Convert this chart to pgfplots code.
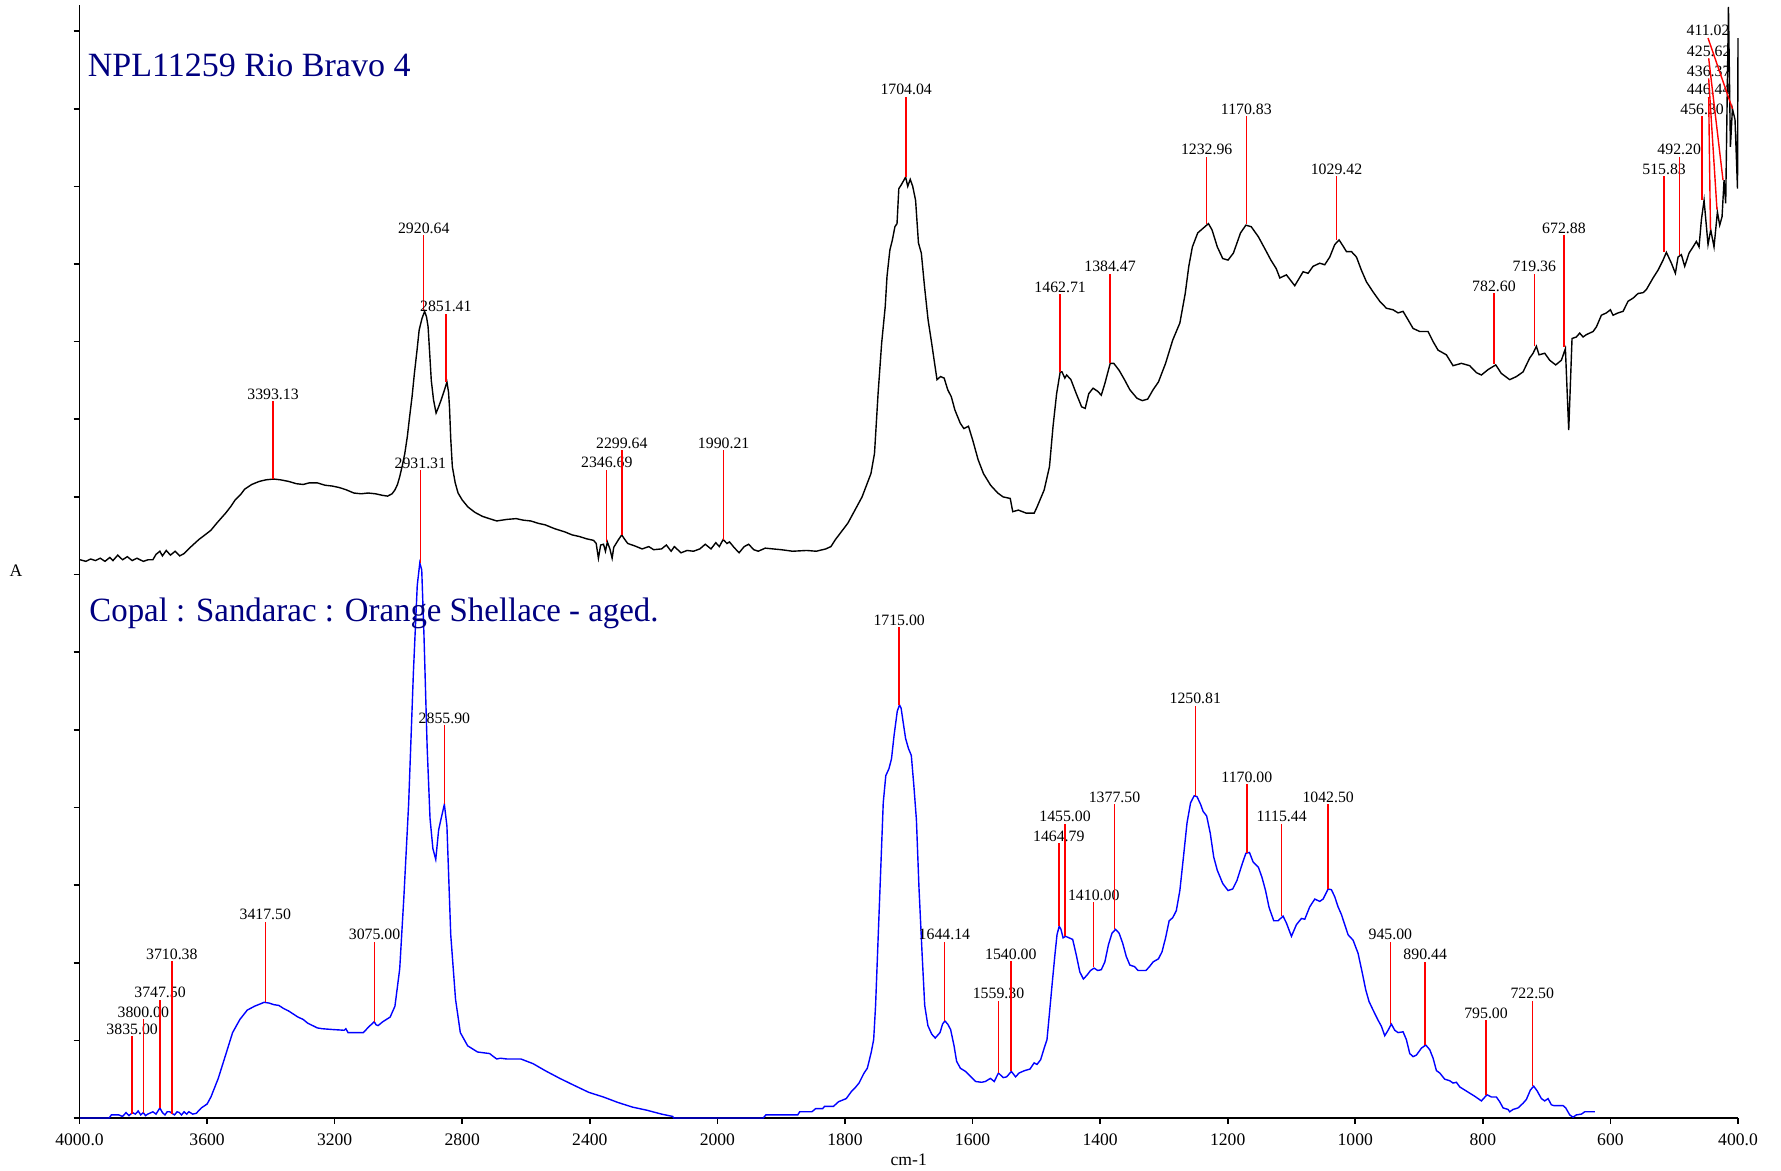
\documentclass[border=0pt]{standalone}
\usepackage{fontspec}
\setmainfont{Liberation Serif}
\usepackage{graphicx}
\usepackage{pgfplots}
\pgfplotsset{compat=1.18}

\definecolor{titleblue}{RGB}{0,0,128}
\definecolor{specblue}{RGB}{0,0,255}
\definecolor{peakred}{RGB}{255,0,0}

\pgfplotsset{
  peakline/.style={peakred, line width=0.7pt, forget plot},
}
\tikzset{
  peaklabel/.style={anchor=south, inner sep=0pt, yshift=0.6pt,
                    font=\fontsize{7.9}{9}\selectfont, text=black},
}
% vertical peak marker: wavenumber, foot (on the spectrum), top (under the label)
\newcommand\peak[3]{\addplot[peakline] coordinates {(#1,#2) (#1,#3)} node[peaklabel,pos=1] {#1};}
% leader line for crowded labels: label, foot x, foot y, top x, top y
\newcommand\slantpeak[5]{\addplot[peakline] coordinates {(#2,#3) (#4,#5)} node[peaklabel,pos=1] {#1};}

\begin{document}
\begin{tikzpicture}
\useasboundingbox (0,0) rectangle (890.5pt,585.5pt);
\begin{axis}[
  at={(39.75pt,26.5pt)}, anchor=south west,
  width=829.25pt, height=556.5pt, scale only axis,
  % FTIR abscissa: 400 cm-1 per division above 2000, 200 cm-1 per division below
  x coord trafo/.code={\pgfmathparse{(#1>=2000)?((4000-#1)/400):(5+(2000-#1)/200)}},
  xmin=4000, xmax=400, ymin=0, ymax=14.336,
  axis x line*=bottom, axis y line*=left,
  axis line style={black, line width=0.8pt},
  xtick={4000,3600,3200,2800,2400,2000,1800,1600,1400,1200,1000,800,600,400},
  xticklabels={4000.0,3600,3200,2800,2400,2000,1800,1600,1400,1200,1000,800,600,400.0},
  ytick={0,1,...,14}, yticklabels={},
  tick align=outside, major tick length=3pt,
  tick style={black, line width=0.8pt},
  xticklabel style={font=\fontsize{8.8}{10}\selectfont, yshift=-1.2pt},
  clip=false,
]

% ---- NPL11259 Rio Bravo 4 (offset spectrum) ----
\addplot[black, line width=0.7pt] table {
wn a
3998 7.19
3980 7.17
3965 7.20
3950 7.18
3935 7.21
3920 7.17
3905 7.22
3895 7.18
3880 7.25
3865 7.19
3850 7.23
3835 7.18
3820 7.21
3800 7.17
3785 7.19
3770 7.19
3760 7.26
3748 7.30
3740 7.24
3728 7.31
3715 7.25
3700 7.30
3686 7.24
3672 7.27
3650 7.36
3626 7.45
3610 7.50
3588 7.57
3570 7.66
3555 7.73
3542 7.79
3525 7.88
3512 7.96
3495 8.03
3482 8.10
3460 8.16
3436 8.20
3415 8.22
3391 8.23
3370 8.22
3345 8.20
3320 8.17
3299 8.16
3280 8.18
3254 8.18
3230 8.15
3208 8.14
3185 8.12
3163 8.09
3140 8.05
3117 8.04
3095 8.05
3072 8.04
3050 8.02
3034 8.01
3020 8.04
3011 8.09
3003 8.16
2996 8.26
2988 8.40
2980 8.56
2972 8.78
2965 9.03
2957 9.30
2950 9.59
2942 9.88
2935 10.15
2926 10.30
2918 10.39
2912 10.32
2907 10.19
2902 9.85
2897 9.50
2890 9.25
2882 9.08
2875 9.15
2866 9.25
2857 9.36
2848 9.48
2843 9.35
2840 9.16
2836 8.75
2831 8.39
2822 8.18
2813 8.05
2800 7.96
2782 7.87
2760 7.80
2737 7.75
2715 7.72
2692 7.69
2660 7.71
2631 7.72
2608 7.70
2585 7.69
2562 7.66
2540 7.64
2510 7.59
2479 7.55
2455 7.51
2433 7.49
2410 7.46
2388 7.44
2380 7.40
2373 7.21
2366 7.38
2357 7.39
2351 7.30
2345 7.42
2337 7.33
2330 7.21
2325 7.35
2319 7.39
2310 7.45
2300 7.51
2290 7.45
2281 7.40
2260 7.37
2236 7.33
2215 7.36
2200 7.32
2175 7.33
2160 7.38
2145 7.30
2135 7.36
2114 7.28
2095 7.31
2075 7.30
2055 7.33
2038 7.39
2020 7.33
2005 7.41
1997 7.36
1991 7.45
1985 7.40
1981 7.42
1974 7.35
1966 7.28
1958 7.36
1951 7.39
1943 7.32
1936 7.30
1925 7.34
1913 7.33
1900 7.32
1882 7.30
1860 7.31
1845 7.30
1830 7.33
1822 7.36
1815 7.45
1795.6 7.66
1785 7.82
1773.2 8.00
1759.3 8.30
1753.7 8.56
1748.1 9.33
1742.5 9.98
1736.9 10.45
1734.1 10.84
1729.6 11.18
1725.7 11.31
1721.7 11.48
1718.4 11.52
1715.6 11.97
1711.7 12.02
1704.9 12.12
1701.6 12.00
1697.7 12.09
1693.8 12.00
1689.3 11.82
1684.8 11.27
1680.3 11.14
1675.3 10.71
1669.7 10.28
1664.1 9.98
1660.2 9.76
1655.7 9.51
1650.1 9.55
1644.5 9.53
1638.9 9.38
1633.3 9.29
1627.7 9.12
1619.3 8.95
1613.7 8.88
1606.4 8.91
1599.7 8.73
1591.3 8.48
1582.9 8.30
1571.7 8.15
1560.5 8.05
1552.1 8.00
1540.9 7.98
1537.0 7.81
1528.1 7.83
1515.7 7.79
1503.4 7.79
1498.9 7.87
1487.7 8.09
1479.4 8.39
1473.8 8.91
1468.2 9.33
1462.6 9.61
1459.8 9.61
1455.3 9.53
1452.5 9.57
1445.8 9.51
1437.4 9.33
1429.0 9.16
1423.4 9.14
1417.8 9.33
1411.1 9.40
1403.8 9.36
1398.2 9.31
1392.6 9.46
1384.2 9.72
1378.6 9.72
1370.2 9.63
1361.8 9.51
1353.4 9.38
1342.2 9.27
1333.8 9.24
1325.4 9.26
1317.0 9.38
1308.6 9.48
1297.4 9.72
1286.2 10.02
1275.0 10.24
1266.6 10.62
1261.0 10.97
1255.4 11.22
1247.0 11.40
1238.6 11.46
1230.2 11.52
1224.6 11.44
1216.3 11.22
1207.8 11.07
1199.5 11.05
1191.1 11.14
1179.9 11.40
1171.5 11.50
1163.1 11.48
1151.9 11.35
1140.7 11.18
1132.3 11.05
1123.9 10.94
1118.3 10.82
1108.0 10.86
1094.9 10.72
1081.8 10.90
1074.0 10.88
1066.2 10.97
1055.7 11.01
1047.9 10.99
1040.0 11.09
1032.2 11.25
1025.4 11.31
1019.1 11.23
1013.9 11.16
1006.1 11.16
998.2 11.09
990.4 10.92
982.5 10.77
972.1 10.64
961.7 10.52
951.2 10.43
940.8 10.41
932.9 10.37
925.1 10.39
917.2 10.28
909.4 10.17
898.9 10.13
885.9 10.13
878.0 10.00
870.2 9.89
857.2 9.83
846.7 9.69
833.6 9.72
820.6 9.69
810.1 9.60
802.3 9.57
791.8 9.64
779.8 9.70
771.0 9.59
757.9 9.51
747.4 9.55
737.0 9.61
726.5 9.79
721.3 9.85
716.1 9.94
711.9 9.83
703.0 9.85
695.2 9.76
685.8 9.70
676.9 9.76
670.6 9.91
665.4 8.86
660.2 10.04
653.4 10.06
648.2 10.11
642.9 10.06
637.7 10.09
627.2 10.13
622.0 10.19
614.2 10.34
606.3 10.37
600.1 10.41
595.9 10.34
588.0 10.37
580.2 10.39
572.4 10.52
564.5 10.56
556.7 10.62
548.9 10.63
543.7 10.67
533.2 10.82
525.4 10.92
517.5 11.05
512.3 11.15
504.4 11.01
498.2 10.88
494.0 11.09
488.8 11.12
483.6 10.97
476.8 11.14
470.5 11.22
465.3 11.29
461.1 11.22
457.4 11.57
453.2 11.82
447.0 11.25
442.8 11.44
437.6 11.22
432.3 11.67
428.7 11.50
425.0 11.61
421.9 12.08
419.3 11.78
415.0 14.31
411.9 12.51
408.8 13.00
404.7 12.86
400.8 11.97
400.0 13.91
};

% ---- Copal : Sandarac : Orange Shellace - aged ----
\addplot[specblue, line width=0.7pt] table {
wn a
3998 0.00
3907 0.00
3900 0.04
3877 0.04
3865 0.02
3854 0.07
3845 0.03
3834 0.07
3825 0.05
3816 0.09
3808 0.04
3800 0.07
3793 0.03
3786 0.05
3770 0.08
3760 0.05
3748 0.13
3740 0.07
3732 0.04
3725 0.08
3717 0.08
3710 0.06
3702 0.04
3694 0.08
3687 0.07
3680 0.04
3672 0.08
3664 0.05
3657 0.08
3645 0.05
3634 0.06
3618 0.13
3600 0.18
3588 0.27
3565 0.51
3542 0.81
3520 1.10
3497 1.27
3474 1.39
3451 1.44
3421 1.49
3405 1.48
3391 1.46
3375 1.45
3360 1.41
3345 1.38
3330 1.34
3315 1.30
3299 1.27
3284 1.22
3269 1.19
3254 1.16
3239 1.15
3208 1.14
3170 1.13
3165 1.15
3158 1.10
3110 1.10
3094 1.17
3076 1.24
3070 1.20
3064 1.19
3049 1.24
3026 1.30
3011 1.44
2996 1.92
2983 2.84
2968 4.05
2953 5.75
2941 6.86
2933 7.15
2927 7.06
2920 6.23
2910 4.78
2901 3.86
2892 3.47
2883 3.33
2874 3.71
2866 3.86
2856 4.04
2848 3.76
2836 2.36
2821 1.53
2806 1.10
2783 0.93
2752 0.85
2714 0.83
2705 0.80
2692 0.76
2680 0.77
2660 0.76
2616 0.76
2578 0.70
2540 0.61
2494 0.51
2449 0.42
2403 0.33
2357 0.27
2312 0.20
2266 0.14
2221 0.10
2175 0.05
2140 0.02
2137 0.00
1928 0.00
1924 0.04
1874 0.04
1871 0.08
1852 0.08
1846 0.12
1835 0.12
1832 0.15
1818 0.15
1810 0.21
1798 0.25
1790 0.34
1784 0.39
1778 0.45
1770 0.58
1765 0.64
1759 0.84
1755 1.01
1752 1.45
1748 2.32
1744 3.19
1740 4.06
1736 4.41
1731 4.50
1727 4.63
1723 4.93
1718 5.24
1714.5 5.32
1712 5.28
1709 5.11
1705 4.89
1700.5 4.76
1696 4.67
1692 4.28
1688 3.84
1684 2.97
1679 2.10
1675 1.45
1670 1.19
1664 1.08
1658.5 1.03
1651 1.10
1647 1.21
1643.4 1.25
1639 1.21
1634.4 1.14
1629 0.93
1625 0.73
1619 0.64
1611 0.60
1602.5 0.53
1595 0.47
1586 0.46
1580 0.47
1572 0.51
1566 0.47
1559.4 0.58
1552 0.52
1546.5 0.53
1539.2 0.60
1532.5 0.53
1527 0.58
1518.5 0.61
1510 0.63
1503.4 0.71
1499 0.69
1493.3 0.75
1487.7 0.90
1483.3 1.01
1479.3 1.36
1475.4 1.71
1470.9 2.10
1467.6 2.36
1464.2 2.47
1461.4 2.43
1458.1 2.32
1454.2 2.34
1448.6 2.32
1443 2.30
1437.4 2.10
1431.8 1.88
1426.2 1.79
1420.6 1.84
1415 1.90
1409.4 1.93
1403.8 1.90
1398.2 1.91
1392.6 2.01
1387 2.23
1381.4 2.38
1375.8 2.43
1370.2 2.38
1364.6 2.25
1359 2.08
1353.4 1.97
1346.1 1.95
1340.5 1.90
1328.2 1.90
1322.6 1.95
1317 2.01
1308.6 2.05
1303 2.14
1297.4 2.32
1291.8 2.54
1286.2 2.58
1280.6 2.67
1275 2.93
1269.4 3.36
1263.8 3.80
1258.2 4.06
1252.6 4.15
1248.2 4.14
1242.5 4.04
1238.6 3.95
1233 3.89
1227.4 3.67
1221.9 3.36
1216.3 3.19
1207.8 3.02
1199.5 2.93
1192.2 2.95
1185.5 3.06
1177 3.28
1171.5 3.41
1165.9 3.42
1160.3 3.30
1151.9 3.23
1146.3 3.10
1140.7 2.93
1135.1 2.71
1127.8 2.54
1121.1 2.54
1113.2 2.60
1107.9 2.51
1100.1 2.34
1092.3 2.49
1084.4 2.57
1079.2 2.56
1071.4 2.72
1063.5 2.82
1055.7 2.79
1050.5 2.82
1042.6 2.95
1037.4 2.94
1032.2 2.85
1027 2.72
1021.7 2.62
1016.5 2.49
1011.3 2.36
1003.4 2.29
995.6 2.12
988.8 1.86
983.6 1.65
978.4 1.50
972.1 1.39
964.3 1.26
959 1.18
953.8 1.06
948.6 1.13
943.4 1.21
938.1 1.13
932.9 1.10
925.1 1.11
919.9 1.01
914.6 0.83
909.4 0.79
904.2 0.81
896.3 0.90
889.5 0.94
883.3 0.88
878 0.77
872.8 0.61
867.6 0.58
859.8 0.50
851.9 0.48
846.7 0.45
841.5 0.46
836.2 0.40
828.4 0.36
820.6 0.32
812.7 0.28
802.3 0.22
793.4 0.30
786.6 0.27
778.8 0.27
773.6 0.21
768.3 0.13
760.5 0.11
757.9 0.08
752.7 0.11
744.8 0.13
737 0.19
731.7 0.24
725.5 0.36
720.3 0.41
715 0.35
708.2 0.25
703 0.22
697.8 0.25
692.6 0.17
688.9 0.16
674.3 0.16
670.1 0.13
663.8 0.04
658.6 0.01
653.4 0.04
645.5 0.05
640.3 0.08
624.6 0.08
};

% ---- peak picks, upper spectrum ----
\peak{3393.13}{8.23}{9.23}
\peak{2920.64}{10.39}{11.37}
\peak{2851.41}{9.48}{10.36}
\peak{2346.69}{7.42}{8.35}
\peak{2299.64}{7.51}{8.60}
\peak{1990.21}{7.45}{8.60}
\peak{1704.04}{12.12}{13.15}
\peak{1462.71}{9.61}{10.61}
\peak{1384.47}{9.73}{10.87}
\peak{1232.96}{11.52}{12.38}
\peak{1170.83}{11.51}{12.90}
\peak{1029.42}{11.31}{12.13}
\peak{782.60}{9.71}{10.62}
\peak{719.36}{9.94}{10.87}
\peak{672.88}{9.93}{11.37}
\peak{515.83}{11.16}{12.13}
\peak{492.20}{11.12}{12.38}
\peak{456.30}{11.83}{12.90}
\slantpeak{446.44}{443.2}{11.44}{446.0}{13.15}
\slantpeak{436.37}{433.0}{11.70}{446.0}{13.39}
\slantpeak{425.62}{423.5}{12.08}{446.0}{13.65}
\slantpeak{411.02}{408.8}{13.00}{447.0}{13.91}

% ---- peak picks, lower spectrum ----
\peak{3835.00}{0.05}{1.05}
\peak{3800.00}{0.07}{1.27}
\peak{3747.50}{0.13}{1.52}
\peak{3710.38}{0.05}{2.02}
\peak{3417.50}{1.49}{2.53}
\peak{3075.00}{1.24}{2.27}
\peak{2931.31}{7.15}{8.34}
\peak{2855.90}{4.05}{5.06}
\peak{1715.00}{5.32}{6.32}
\peak{1644.14}{1.25}{2.27}
\peak{1559.30}{0.58}{1.51}
\peak{1540.00}{0.60}{2.02}
\peak{1464.79}{2.47}{3.54}
\peak{1455.00}{2.34}{3.79}
\peak{1410.00}{1.95}{2.78}
\peak{1377.50}{2.43}{4.04}
\peak{1250.81}{4.15}{5.31}
\peak{1170.00}{3.41}{4.30}
\peak{1115.44}{2.60}{3.79}
\peak{1042.50}{2.95}{4.04}
\peak{945.00}{1.21}{2.27}
\peak{890.44}{0.94}{2.01}
\peak{795.00}{0.30}{1.26}
\peak{722.50}{0.41}{1.51}

% ---- spectrum titles and axis labels ----
\node[anchor=base west, inner sep=0pt, text=titleblue, font=\fontsize{17}{20}\selectfont]
  at (axis cs:3975,13.42) {NPL11259 Rio Bravo 4};
\node[anchor=base west, inner sep=0pt, text=titleblue, font=\fontsize{17}{20}\selectfont]
  at (axis cs:3970,6.39) {\scalebox{0.966}[1]{Copal : Sandarac : Orange Shellace - aged.}};
\node[inner sep=0pt, font=\fontsize{8.8}{10}\selectfont, xshift=-31.75pt]
  at (axis description cs:0,0.4914) {A};
\node[anchor=base, inner sep=0pt, font=\fontsize{8.8}{10}\selectfont, yshift=-23.5pt]
  at (axis description cs:0.5,0) {cm-1};
\end{axis}
\end{tikzpicture}
\end{document}
